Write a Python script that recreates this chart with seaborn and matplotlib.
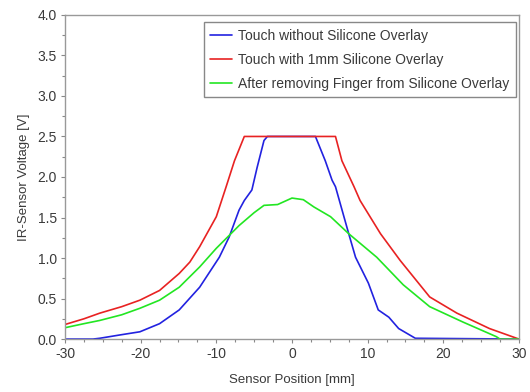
import numpy as np
import pandas as pd
import seaborn as sns
import matplotlib
matplotlib.use("Agg")
import matplotlib.pyplot as plt
from matplotlib.ticker import MultipleLocator

labels = ["Touch without Silicone Overlay",
          "Touch with 1mm Silicone Overlay",
          "After removing Finger from Silicone Overlay"]
colors = ["#2222e0", "#e82222", "#22e622"]

blue_x = [-30, -26.3, -25.4, -22.8, -20.1, -17.5, -14.9, -12.2, -9.6, -8.3, -7.0, -6.3, -5.3, -4.6, -3.7, -3.25,
          3.1, 4.4, 5.3, 5.75, 7.5, 8.4, 10.1, 11.4, 12.8, 14.1, 16.3, 30]
blue_y = [0, 0, 0.01, 0.05, 0.09, 0.19, 0.36, 0.64, 1.01, 1.26, 1.59, 1.71, 1.84, 2.12, 2.45, 2.5,
          2.5, 2.2, 1.96, 1.88, 1.30, 1.01, 0.69, 0.36, 0.27, 0.13, 0.01, 0.0]

red_x = [-30, -27.5, -25.4, -22.5, -20.1, -17.5, -14.9, -13.5, -12.2, -10.0, -8.7, -7.6, -6.3,
         5.75, 6.6, 8.2, 9.0, 11.7, 14.3, 18.2, 21.8, 26.1, 30]
red_y = [0.18, 0.25, 0.32, 0.40, 0.48, 0.60, 0.81, 0.95, 1.14, 1.51, 1.88, 2.2, 2.5,
         2.5, 2.2, 1.88, 1.71, 1.30, 0.97, 0.52, 0.32, 0.13, 0.0]

green_x = [-30, -27.5, -25.4, -22.5, -20.1, -17.5, -14.9, -12.2, -10.0, -7.0, -5.0, -3.7, -1.9, 0, 1.5,
           2.9, 5.1, 7.5, 11.2, 14.7, 18.2, 22.6, 27.0, 27.5, 30]
green_y = [0.14, 0.19, 0.23, 0.30, 0.38, 0.48, 0.64, 0.89, 1.12, 1.40, 1.56, 1.65, 1.66, 1.74, 1.72,
           1.63, 1.51, 1.30, 1.01, 0.67, 0.40, 0.21, 0.03, 0.0, 0.0]

xticks = [-30, -20, -10, 0, 10, 20, 30]
yticks = [0.0, 0.5, 1.0, 1.5, 2.0, 2.5, 3.0, 3.5, 4.0]

frames = []
for lab, xs, ys in zip(labels, [blue_x, red_x, green_x], [blue_y, red_y, green_y]):
    frames.append(pd.DataFrame({"x": xs, "y": ys, "series": lab}))
df = pd.concat(frames, ignore_index=True)

sns.set_style("white")
plt.rcParams["font.family"] = ["Liberation Sans", "DejaVu Sans"]

fig = plt.figure(figsize=(5.30, 3.92), dpi=100)
ax = fig.add_axes([0.1226, 0.135, 0.8566, 0.827])

sns.lineplot(data=df, x="x", y="y", hue="series", hue_order=labels,
             palette=dict(zip(labels, colors)), sort=False, estimator=None,
             linewidth=1.2, ax=ax)

ax.set_xlim(-30, 30)
ax.set_ylim(0, 4.0)
ax.set_xticks(xticks)
ax.set_xticklabels([str(t) for t in xticks])
ax.set_yticks(yticks)
ax.set_yticklabels([f"{t:.1f}" for t in yticks])
ax.xaxis.set_minor_locator(MultipleLocator(2.5))
ax.yaxis.set_minor_locator(MultipleLocator(0.25))
ax.tick_params(which="both", direction="out", color="#888888", labelcolor="#3a3a3a", labelsize=10)
ax.tick_params(which="major", length=3, width=0.8, pad=3)
ax.tick_params(which="minor", length=2.5, width=0.8)
ax.tick_params(axis="x", which="both", bottom=True)
ax.tick_params(axis="y", which="both", left=True)
for s in ax.spines.values():
    s.set_color("#999999")
    s.set_linewidth(1.0)
    s.set_visible(True)

ax.set_xlabel("Sensor Position [mm]", fontsize=9.5, color="#3a3a3a", labelpad=9)
ax.set_ylabel("IR-Sensor Voltage [V]", fontsize=9.5, color="#3a3a3a", labelpad=5)

leg = ax.legend(loc="upper right", bbox_to_anchor=(0.993, 0.977), fontsize=10,
                frameon=True, fancybox=False, edgecolor="#888888", framealpha=1,
                handlelength=1.6, handletextpad=0.45, borderpad=0.45, labelspacing=0.72,
                borderaxespad=0.0)
leg.get_frame().set_linewidth(1.0)
for t in leg.get_texts():
    t.set_color("#3a3a3a")

fig.savefig("out.png", dpi=100)
